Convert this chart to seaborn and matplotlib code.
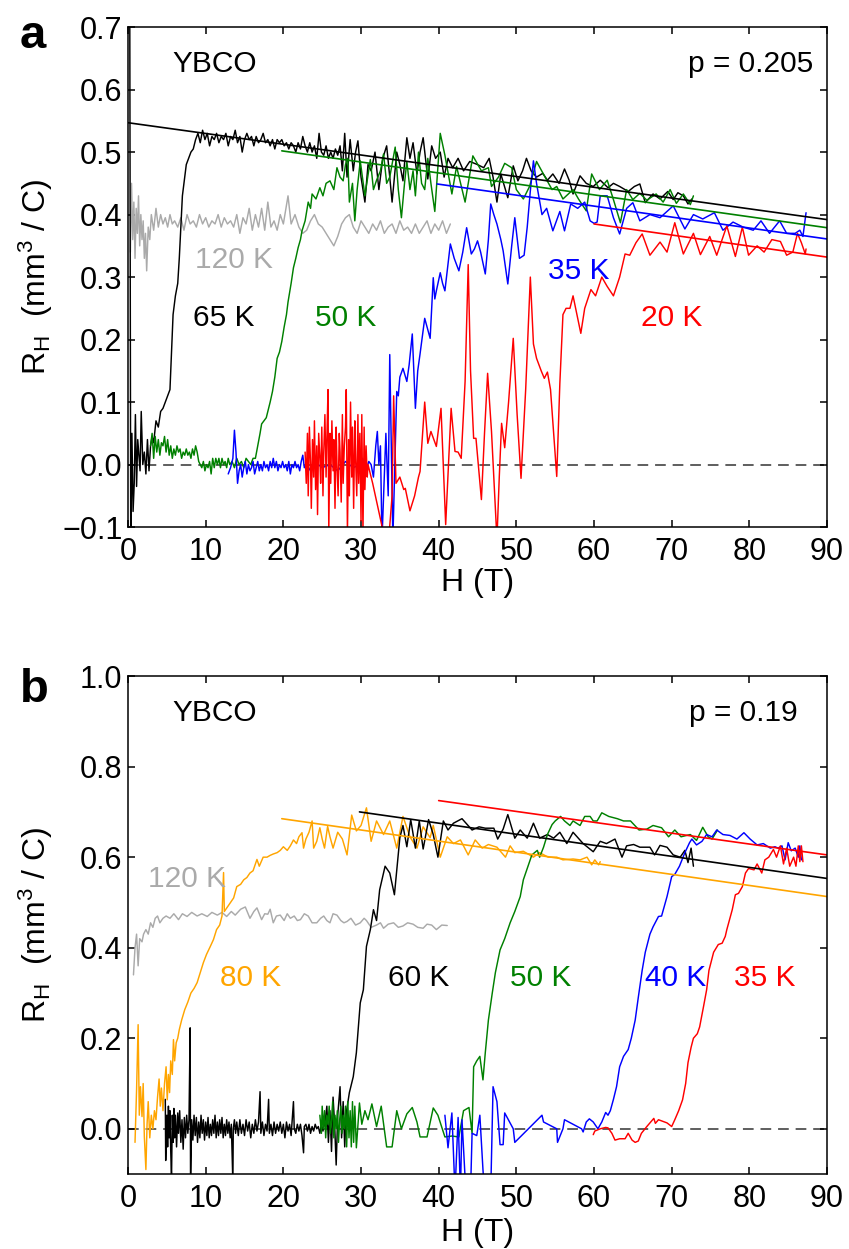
import numpy as np
import pandas as pd
import matplotlib
matplotlib.use("Agg")
import matplotlib.pyplot as plt
import seaborn as sns

# ---------------- panel a : p = 0.205 ----------------
# each array: columns H (T), R_H (mm^3/C)
a_120K = np.array([
    [0.3, 0.34], [0.45, 0.45], [0.6, 0.36], [0.75, 0.42], [0.9, 0.33], [1.05, 0.41], [1.2, 0.37],
    [1.35, 0.43], [1.5, 0.35], [1.65, 0.40], [1.8, 0.36], [1.95, 0.39], [2.1, 0.33], [2.25, 0.37],
    [2.4, 0.31], [2.6, 0.38], [2.8, 0.36], [3.0, 0.40], [3.3, 0.375], [3.6, 0.41], [3.9, 0.38],
    [4.2, 0.40], [4.5, 0.385], [4.8, 0.395], [5.1, 0.38], [5.4, 0.40], [5.7, 0.385], [6.0, 0.39],
    [6.4, 0.38], [6.8, 0.395], [7.2, 0.375], [7.6, 0.40], [8.0, 0.385], [8.4, 0.39], [8.8, 0.38],
    [9.2, 0.40], [9.6, 0.385], [10.0, 0.395], [10.4, 0.38], [10.8, 0.39], [11.2, 0.385], [11.6, 0.40],
    [12.0, 0.38], [12.4, 0.395], [12.8, 0.385], [13.2, 0.39], [13.6, 0.38], [14.0, 0.40], [14.4, 0.37],
    [14.8, 0.395], [15.2, 0.385], [15.6, 0.41], [16.0, 0.375], [16.4, 0.40], [16.8, 0.38], [17.2, 0.41],
    [17.6, 0.375], [18.0, 0.42], [18.4, 0.38], [18.8, 0.39], [19.2, 0.375], [19.6, 0.40], [20.0, 0.385],
    [20.6, 0.43], [21.0, 0.385], [21.5, 0.40], [22.0, 0.38], [22.5, 0.37], [23.0, 0.375], [23.5, 0.39],
    [24.0, 0.40], [24.5, 0.385], [25.0, 0.38], [25.5, 0.37], [26.0, 0.36], [26.5, 0.35], [27.0, 0.365],
    [27.5, 0.385], [28.0, 0.395], [28.5, 0.40], [29.0, 0.38], [29.5, 0.37], [30.0, 0.39], [30.5, 0.38],
    [31.0, 0.37], [31.5, 0.385], [32.0, 0.375], [32.5, 0.39], [33.0, 0.37], [33.5, 0.38], [34.0, 0.385],
    [34.5, 0.37], [35.0, 0.39], [35.5, 0.375], [36.0, 0.38], [36.5, 0.37], [37.0, 0.385], [37.5, 0.37],
    [38.0, 0.38], [38.5, 0.39], [39.0, 0.37], [39.5, 0.385], [40.0, 0.375], [40.5, 0.39], [41.0, 0.37],
    [41.5, 0.385]])

a_65K = np.array([
    [0.2, 0.9], [0.35, -0.15], [0.5, 0.05], [0.65, -0.075], [0.8, -0.03], [0.95, 0.08], [1.1, -0.035],
    [1.25, 0.04], [1.4, 0.015], [1.55, -0.01], [1.7, 0.085], [1.9, 0.0], [2.1, 0.02], [2.3, -0.015],
    [2.5, 0.04], [2.7, -0.01], [2.9, 0.03], [3.1, 0.045], [3.3, 0.035], [3.6, 0.07], [3.9, 0.06],
    [4.2, 0.085], [4.5, 0.09], [4.8, 0.1], [5.1, 0.11], [5.4, 0.12], [5.6, 0.18], [5.8, 0.24],
    [6.1, 0.27], [6.4, 0.29], [6.6, 0.33], [6.8, 0.38], [7.0, 0.43], [7.2, 0.45], [7.5, 0.48],
    [7.8, 0.49], [8.1, 0.50], [8.4, 0.505], [8.7, 0.52], [9.0, 0.53], [9.3, 0.515], [9.6, 0.535],
    [9.9, 0.52], [10.2, 0.53], [10.5, 0.51], [10.8, 0.525], [11.1, 0.52], [11.4, 0.53], [11.7, 0.515],
    [12.0, 0.525], [12.3, 0.52], [12.6, 0.53], [12.9, 0.51], [13.2, 0.525], [13.5, 0.52], [13.8, 0.535],
    [14.1, 0.515], [14.4, 0.525], [14.7, 0.50], [15.0, 0.52], [15.3, 0.53], [15.6, 0.52], [15.9, 0.525],
    [16.2, 0.51], [16.5, 0.525], [16.8, 0.515], [17.1, 0.52], [17.4, 0.53], [17.7, 0.515], [18.0, 0.52],
    [18.3, 0.51], [18.6, 0.52], [18.9, 0.505], [19.2, 0.52], [19.5, 0.515], [19.8, 0.52], [20.1, 0.51],
    [20.4, 0.515], [20.7, 0.505], [21.0, 0.515], [21.3, 0.51], [21.6, 0.50], [21.9, 0.515], [22.2, 0.505],
    [22.5, 0.525], [22.8, 0.51], [23.1, 0.50], [23.4, 0.515], [23.7, 0.50], [24.0, 0.51], [24.3, 0.49],
    [24.6, 0.53], [24.9, 0.50], [25.2, 0.495], [25.5, 0.51], [25.8, 0.49], [26.1, 0.50], [26.4, 0.49],
    [26.7, 0.505], [27.0, 0.495], [27.3, 0.51], [27.6, 0.47], [27.9, 0.53], [28.2, 0.46], [28.6, 0.52],
    [29.0, 0.47], [29.3, 0.50], [29.6, 0.518], [30.0, 0.46], [30.5, 0.42], [30.9, 0.48], [31.3, 0.47],
    [31.8, 0.50], [32.3, 0.44], [32.8, 0.49], [33.3, 0.51], [33.7, 0.46], [34.0, 0.42], [34.6, 0.50],
    [35.0, 0.48], [35.4, 0.454], [35.9, 0.523], [36.3, 0.49], [36.7, 0.515], [37.2, 0.465], [37.6, 0.50],
    [38.0, 0.523], [38.6, 0.457], [39.1, 0.51], [39.6, 0.49], [40.2, 0.50], [40.7, 0.46], [41.2, 0.49],
    [41.8, 0.475], [42.5, 0.49], [43.2, 0.47], [44.0, 0.485], [45.0, 0.48], [45.8, 0.475], [46.5, 0.49],
    [47.0, 0.46], [47.5, 0.42], [48.0, 0.465], [48.9, 0.427], [49.6, 0.478], [50.2, 0.454], [50.8, 0.47],
    [51.3, 0.49], [51.9, 0.47], [52.6, 0.46], [53.4, 0.466], [54.0, 0.455], [54.7, 0.465], [55.5, 0.45],
    [56.2, 0.473], [56.8, 0.455], [57.3, 0.433], [58.2, 0.462], [59.0, 0.45], [59.9, 0.445], [60.8, 0.455],
    [61.8, 0.443], [62.5, 0.45], [63.3, 0.445], [64.4, 0.437], [65.2, 0.445], [65.9, 0.449], [66.6, 0.419],
    [67.6, 0.433], [68.5, 0.425], [69.5, 0.437], [70.2, 0.424], [70.8, 0.435], [71.5, 0.43], [72.1, 0.417],
    [72.6, 0.425]])

a_50K = np.array([
    [2.9, 0.03], [3.1, 0.05], [3.3, 0.01], [3.5, 0.045], [3.7, 0.02], [3.9, 0.04], [4.1, 0.015],
    [4.3, 0.035], [4.5, 0.03], [4.7, 0.045], [4.9, 0.02], [5.1, 0.04], [5.3, 0.015], [5.5, 0.03],
    [5.7, 0.01], [5.9, 0.025], [6.1, 0.015], [6.3, 0.03], [6.5, 0.02], [6.7, 0.025], [6.9, 0.01],
    [7.1, 0.02], [7.3, 0.015], [7.5, 0.025], [7.7, 0.015], [7.9, 0.02], [8.1, 0.01], [8.3, 0.025],
    [8.5, 0.015], [8.7, 0.03], [8.9, 0.02], [9.1, 0.005], [9.3, 0.0], [9.5, -0.005], [9.7, 0.005],
    [9.9, -0.01], [10.1, 0.0], [10.3, -0.005], [10.5, 0.005], [10.7, -0.015], [10.9, 0.01], [11.1, -0.005],
    [11.3, 0.01], [11.5, 0.0], [11.7, 0.01], [11.9, -0.005], [12.1, 0.01], [12.3, 0.0], [12.5, 0.005],
    [12.7, -0.005], [12.9, 0.01], [13.1, 0.0], [13.4, 0.005], [13.7, -0.005], [14.0, 0.01], [14.3, 0.0],
    [14.6, 0.005], [14.9, -0.005], [15.2, 0.01], [15.5, 0.005], [15.8, 0.0], [16.1, 0.01], [16.4, 0.01],
    [16.7, 0.03], [17.0, 0.05], [17.2, 0.065], [17.5, 0.07], [17.8, 0.075], [18.0, 0.085], [18.3, 0.1],
    [18.6, 0.117], [18.9, 0.14], [19.2, 0.17], [19.5, 0.18], [19.8, 0.197], [20.1, 0.22], [20.4, 0.24],
    [20.6, 0.26], [21.0, 0.29], [21.3, 0.315], [21.6, 0.33], [21.9, 0.347], [22.2, 0.36], [22.4, 0.374],
    [22.8, 0.39], [23.2, 0.42], [23.5, 0.41], [23.7, 0.433], [24.2, 0.425], [24.7, 0.443], [25.1, 0.43],
    [25.5, 0.45], [26.0, 0.454], [26.5, 0.44], [26.9, 0.475], [27.3, 0.46], [27.7, 0.454], [28.0, 0.48],
    [28.3, 0.49], [28.5, 0.42], [28.9, 0.45], [29.2, 0.39], [29.5, 0.44], [29.9, 0.486], [30.5, 0.43],
    [31.2, 0.488], [31.6, 0.44], [32.0, 0.455], [32.5, 0.47], [32.9, 0.497], [33.3, 0.45], [33.7, 0.46],
    [34.4, 0.508], [34.8, 0.44], [35.2, 0.395], [35.6, 0.45], [35.9, 0.485], [36.3, 0.44], [36.7, 0.47],
    [37.0, 0.43], [37.4, 0.50], [37.8, 0.45], [38.2, 0.44], [38.6, 0.49], [39.0, 0.45], [39.5, 0.405],
    [40.2, 0.53], [40.8, 0.495], [41.7, 0.433], [42.3, 0.477], [43.4, 0.42], [44.4, 0.494], [45.5, 0.47],
    [46.4, 0.475], [46.8, 0.445], [47.7, 0.46], [48.5, 0.482], [49.4, 0.475], [50.0, 0.44], [50.9, 0.425],
    [51.7, 0.445], [52.6, 0.485], [53.7, 0.46], [54.6, 0.44], [55.2, 0.445], [56.0, 0.425], [57.3, 0.44],
    [58.0, 0.425], [59.0, 0.406], [59.7, 0.465], [60.7, 0.44], [61.7, 0.455], [62.5, 0.424], [63.4, 0.387],
    [64.2, 0.44], [65.0, 0.424], [65.9, 0.434], [66.8, 0.423], [68.0, 0.433], [68.9, 0.42], [69.8, 0.44],
    [70.6, 0.418], [71.5, 0.433], [72.4, 0.416], [72.8, 0.43]])

a_35K = np.array([
    [12.9, -0.015], [13.2, -0.005], [13.5, 0.01], [13.7, 0.055], [13.9, 0.02], [14.1, -0.03], [14.3, -0.01],
    [14.5, 0.0], [14.7, -0.02], [14.9, -0.005], [15.1, 0.005], [15.3, -0.015], [15.5, 0.0], [15.7, -0.01],
    [15.9, -0.005], [16.1, 0.005], [16.3, -0.015], [16.5, -0.005], [16.7, 0.005], [16.9, -0.01], [17.1, 0.0],
    [17.3, -0.01], [17.5, 0.005], [17.7, -0.005], [17.9, 0.0], [18.1, -0.01], [18.3, 0.005], [18.5, -0.005],
    [18.7, 0.01], [18.9, -0.005], [19.1, 0.005], [19.3, -0.01], [19.5, 0.0], [19.7, -0.005], [19.9, 0.005],
    [20.1, -0.005], [20.3, 0.0], [20.5, -0.01], [20.7, 0.005], [20.9, -0.015], [21.1, 0.0], [21.3, -0.005],
    [21.5, 0.005], [21.7, -0.005], [21.9, 0.0], [22.1, -0.01], [22.3, 0.005], [22.5, 0.015], [22.7, -0.005],
    [23.0, 0.0], [23.5, -0.01], [24.0, 0.005], [25.0, -0.005], [26.0, 0.0], [27.0, -0.01], [28.0, 0.005],
    [29.0, -0.005], [29.8, 0.0], [30.2, 0.01], [30.6, -0.01], [31.0, 0.005], [31.3, 0.0], [31.6, -0.02],
    [31.9, 0.03], [32.1, 0.053], [32.3, 0.0], [32.5, 0.03], [32.7, -0.12], [33.2, 0.05], [33.5, -0.05],
    [33.7, 0.176], [34.1, -0.12], [34.6, 0.117], [34.8, 0.11], [35.0, 0.14], [35.4, 0.154], [35.9, 0.133],
    [36.2, 0.16], [36.6, 0.209], [37.0, 0.09], [37.3, 0.15], [37.6, 0.177], [38.2, 0.234], [38.9, 0.202],
    [39.3, 0.299], [39.5, 0.265], [39.7, 0.278], [40.2, 0.307], [40.5, 0.29], [40.8, 0.278], [41.5, 0.353],
    [42.0, 0.33], [42.6, 0.31], [43.1, 0.34], [43.6, 0.379], [44.2, 0.337], [44.6, 0.345], [45.0, 0.358],
    [45.4, 0.34], [46.0, 0.305], [46.4, 0.36], [46.7, 0.417], [47.1, 0.40], [47.5, 0.385], [48.0, 0.36],
    [48.3, 0.342], [48.9, 0.289], [49.4, 0.35], [49.8, 0.395], [50.4, 0.33], [51.0, 0.335], [51.4, 0.38],
    [51.8, 0.438], [52.2, 0.486], [52.6, 0.45], [53.3, 0.40], [53.9, 0.41], [54.7, 0.374], [55.6, 0.405],
    [56.2, 0.374], [57.0, 0.417], [57.9, 0.41], [58.8, 0.42], [59.5, 0.39], [60.0, 0.386], [60.4, 0.388],
    [60.8, 0.43], [61.7, 0.43], [62.5, 0.395], [63.3, 0.369], [64.2, 0.41], [65.0, 0.419], [65.9, 0.39],
    [67.2, 0.40], [68.5, 0.395], [70.2, 0.414], [71.7, 0.377], [72.8, 0.40], [74.0, 0.393], [75.5, 0.403],
    [76.6, 0.375], [77.9, 0.388], [79.2, 0.38], [80.5, 0.375], [81.5, 0.39], [82.6, 0.37], [83.9, 0.39],
    [84.8, 0.37], [85.9, 0.37], [86.5, 0.375], [86.9, 0.365], [87.3, 0.403]])

a_20K = np.array([
    [22.8, 0.02], [22.95, -0.03], [23.1, 0.05], [23.2, -0.05], [23.35, 0.06], [23.5, 0.0], [23.6, -0.07],
    [23.75, 0.04], [23.9, -0.02], [24.0, 0.07], [24.15, -0.04], [24.3, 0.03], [24.4, -0.08], [24.55, 0.05],
    [24.7, 0.01], [24.8, -0.03], [24.95, 0.06], [25.1, -0.05], [25.2, 0.02], [25.35, 0.08], [25.5, -0.02],
    [25.6, 0.04], [25.75, 0.12], [25.85, -0.11], [26.0, 0.05], [26.1, -0.03], [26.25, 0.07], [26.4, -0.01],
    [26.5, 0.04], [26.65, -0.07], [26.8, 0.06], [26.9, 0.0], [27.05, -0.05], [27.2, 0.05], [27.3, 0.02],
    [27.45, -0.06], [27.6, 0.08], [27.7, -0.03], [27.85, 0.03], [28.0, 0.06], [28.1, 0.12], [28.25, -0.11],
    [28.4, 0.04], [28.5, -0.05], [28.65, 0.1], [28.8, -0.02], [28.9, 0.06], [29.05, -0.07], [29.2, 0.07],
    [29.3, 0.01], [29.45, -0.05], [29.6, 0.08], [29.7, -0.03], [29.85, 0.05], [30.0, -0.09], [30.1, 0.08],
    [30.25, -0.11], [30.4, 0.06], [30.5, -0.04], [30.65, 0.03], [30.8, -0.02], [30.9, 0.0],
    [31.5, -0.03], [32.2, -0.07], [32.9, -0.11], [33.5, -0.13], [34.0, -0.05], [34.2, 0.11], [34.5, -0.03],
    [35.0, -0.02], [35.5, -0.04], [35.7, -0.038], [36.3, -0.074], [36.9, -0.05], [37.4, -0.02], [37.6, -0.011],
    [38.2, 0.10], [38.6, 0.034], [39.0, 0.053], [39.7, 0.029], [40.3, 0.09], [40.9, -0.096], [41.6, 0.09],
    [42.1, 0.021], [42.5, 0.02], [42.9, 0.01], [43.4, 0.133], [43.8, 0.32], [44.1, 0.15], [44.5, 0.042],
    [44.8, 0.042], [45.5, -0.056], [45.9, 0.05], [46.3, 0.146], [46.8, 0.053], [47.5, -0.12], [47.8, -0.02],
    [48.1, 0.066], [48.5, 0.027], [49.0, 0.1], [49.6, 0.202], [50.1, 0.08], [50.6, -0.022], [51.2, 0.12],
    [51.8, 0.30], [52.2, 0.193], [52.6, 0.17], [53.2, 0.15], [53.6, 0.138], [54.0, 0.148], [54.4, 0.12],
    [54.8, 0.05], [55.2, -0.019], [55.6, 0.13], [56.0, 0.24], [56.4, 0.25], [56.9, 0.25], [57.3, 0.27],
    [57.8, 0.24], [58.3, 0.21], [58.8, 0.25], [59.6, 0.28], [60.2, 0.27], [61.0, 0.30], [61.7, 0.285],
    [62.5, 0.27], [63.3, 0.30], [64.0, 0.337], [64.6, 0.335], [65.4, 0.355], [66.2, 0.369], [67.2, 0.335],
    [68.5, 0.356], [69.4, 0.34], [70.4, 0.387], [71.5, 0.337], [72.8, 0.37], [73.7, 0.336], [74.9, 0.365],
    [75.8, 0.335], [77.1, 0.382], [78.2, 0.333], [79.1, 0.38], [79.9, 0.335], [81.0, 0.35], [81.9, 0.34],
    [82.9, 0.36], [84.0, 0.357], [84.8, 0.335], [85.6, 0.34], [86.2, 0.37], [86.7, 0.355], [87.2, 0.337],
    [87.3, 0.345]])

# straight high-field fits, panel a (start, end)
a_fit_65K = np.array([[0.0, 0.547], [90.0, 0.392]])
a_fit_50K = np.array([[19.8, 0.502], [90.0, 0.379]])
a_fit_35K = np.array([[39.8, 0.449], [90.0, 0.361]])
a_fit_20K = np.array([[60.0, 0.385], [90.0, 0.332]])

# ---------------- panel b : p = 0.19 ----------------
b_120K = np.array([
    [0.7, 0.34], [0.9, 0.40], [1.1, 0.43], [1.3, 0.36], [1.5, 0.42], [1.8, 0.413], [2.0, 0.43],
    [2.3, 0.44], [2.6, 0.43], [2.9, 0.455], [3.2, 0.445], [3.5, 0.465], [3.8, 0.47], [4.1, 0.455],
    [4.5, 0.465], [4.9, 0.47], [5.4, 0.465], [5.9, 0.475], [6.5, 0.462], [7.0, 0.475], [7.6, 0.469],
    [8.2, 0.478], [8.9, 0.47], [9.5, 0.475], [10.2, 0.469], [10.8, 0.478], [11.5, 0.472], [12.1, 0.478],
    [12.7, 0.469], [13.3, 0.48], [13.8, 0.472], [14.5, 0.485], [15.1, 0.49], [15.7, 0.465], [16.2, 0.48],
    [16.6, 0.488], [17.2, 0.462], [17.6, 0.475], [18.0, 0.474], [18.3, 0.485], [18.7, 0.455], [19.1, 0.47],
    [19.6, 0.472], [20.1, 0.46], [20.5, 0.475], [20.9, 0.465], [21.4, 0.47], [21.8, 0.46], [22.2, 0.462],
    [22.7, 0.475], [23.2, 0.47], [23.7, 0.455], [24.3, 0.455], [24.8, 0.465], [25.2, 0.47], [25.6, 0.46],
    [26.0, 0.455], [26.4, 0.475], [26.9, 0.472], [27.4, 0.46], [27.8, 0.455], [28.2, 0.458], [28.7, 0.465],
    [29.3, 0.45], [29.9, 0.455], [30.4, 0.465], [30.7, 0.46], [31.3, 0.445], [32.0, 0.45], [32.5, 0.455],
    [32.9, 0.443], [33.5, 0.452], [34.2, 0.455], [34.8, 0.445], [35.4, 0.448], [36.0, 0.455], [36.7, 0.452],
    [37.3, 0.445], [38.0, 0.443], [38.5, 0.452], [39.1, 0.45], [39.7, 0.44], [40.4, 0.45], [41.1, 0.449]])

b_80K = np.array([
    [0.9, -0.03], [1.1, 0.086], [1.3, 0.23], [1.45, 0.03], [1.6, 0.093], [1.8, 0.027], [1.95, 0.10],
    [2.1, -0.017], [2.3, -0.09], [2.45, 0.01], [2.6, 0.06], [2.8, -0.02], [3.0, 0.03], [3.2, 0.0],
    [3.4, 0.04], [3.6, 0.02], [3.8, 0.07], [4.0, 0.11], [4.15, 0.05], [4.3, 0.09], [4.5, 0.04],
    [4.7, 0.10], [4.9, 0.137], [5.05, 0.064], [5.2, 0.12], [5.35, 0.08], [5.5, 0.15], [5.7, 0.12],
    [5.85, 0.197], [6.0, 0.15], [6.2, 0.19], [6.4, 0.2], [6.6, 0.219], [6.9, 0.24], [7.3, 0.263],
    [7.7, 0.28], [8.1, 0.30], [8.5, 0.31], [8.9, 0.323], [9.3, 0.345], [9.7, 0.367], [10.1, 0.385],
    [10.6, 0.403], [11.0, 0.418], [11.4, 0.44], [11.8, 0.45], [12.1, 0.47], [12.3, 0.566], [12.4, 0.48],
    [12.8, 0.49], [13.2, 0.50], [13.6, 0.51], [14.0, 0.535], [14.5, 0.54], [14.9, 0.55], [15.3, 0.555],
    [15.7, 0.565], [16.1, 0.57], [16.6, 0.595], [16.9, 0.58], [17.4, 0.60], [17.9, 0.60], [18.3, 0.604],
    [18.7, 0.607], [19.2, 0.61], [19.6, 0.615], [20.0, 0.623], [20.5, 0.615], [20.9, 0.625], [21.3, 0.638],
    [21.7, 0.63], [22.0, 0.645], [22.4, 0.654], [22.6, 0.62], [22.9, 0.64], [23.3, 0.655], [23.7, 0.68],
    [23.9, 0.62], [24.3, 0.635], [24.7, 0.665], [25.0, 0.64], [25.3, 0.62], [25.7, 0.668], [26.0, 0.645],
    [26.4, 0.62], [27.0, 0.655], [27.6, 0.64], [28.2, 0.605], [28.8, 0.693], [29.4, 0.658], [30.0, 0.67],
    [30.7, 0.709], [31.3, 0.635], [32.0, 0.68], [32.9, 0.65], [33.7, 0.68], [34.6, 0.62], [35.4, 0.69],
    [36.3, 0.645], [37.2, 0.62], [38.0, 0.667], [38.9, 0.643], [39.3, 0.67], [40.2, 0.60], [41.1, 0.645],
    [41.9, 0.63], [42.8, 0.638], [43.8, 0.605], [44.7, 0.638], [45.6, 0.62], [46.4, 0.628], [47.5, 0.622],
    [48.6, 0.60], [49.2, 0.625], [49.8, 0.61], [50.9, 0.613], [52.2, 0.60], [53.0, 0.61], [54.1, 0.60],
    [55.2, 0.60], [56.0, 0.594], [57.3, 0.596], [58.2, 0.594], [59.1, 0.60], [59.7, 0.583], [60.1, 0.594],
    [60.6, 0.583], [60.8, 0.59]])

b_60K = np.array([
    [4.8, 0.065], [4.85, -0.07], [5.0, 0.03], [5.1, -0.04], [5.2, 0.05], [5.3, -0.02], [5.4, 0.04],
    [5.5, -0.05], [5.6, -0.11], [5.7, 0.03], [5.8, -0.03], [5.9, 0.045], [6.0, -0.02], [6.1, 0.03],
    [6.25, -0.04], [6.4, 0.035], [6.5, -0.01], [6.65, 0.04], [6.8, -0.03], [6.95, 0.02], [7.1, -0.045],
    [7.25, 0.025], [7.4, -0.02], [7.55, 0.03], [7.7, -0.01], [7.85, 0.02], [8.0, 0.223], [8.05, -0.12],
    [8.2, 0.02], [8.35, -0.025], [8.5, 0.03], [8.65, -0.015], [8.8, 0.025], [8.95, -0.03], [9.1, 0.015],
    [9.25, -0.02], [9.4, 0.03], [9.55, -0.01], [9.7, 0.02], [9.85, -0.025], [10.0, 0.015], [10.15, -0.015],
    [10.3, 0.025], [10.45, -0.02], [10.6, 0.01], [10.75, -0.015], [10.9, 0.02], [11.05, -0.01], [11.2, 0.03],
    [11.35, -0.02], [11.5, 0.015], [11.65, -0.015], [11.8, 0.02], [11.95, -0.01], [12.1, 0.025], [12.25, -0.02],
    [12.4, 0.01], [12.55, -0.015], [12.7, 0.02], [12.85, -0.01], [13.0, 0.015], [13.15, -0.02], [13.3, 0.01],
    [13.5, -0.12], [13.55, 0.0], [13.7, 0.02], [13.85, -0.01], [14.0, 0.015], [14.2, -0.015], [14.4, 0.02],
    [14.6, -0.01], [14.8, 0.01], [15.0, -0.015], [15.2, 0.02], [15.4, -0.005], [15.6, 0.015], [15.8, -0.02],
    [16.0, 0.01], [16.2, -0.01], [16.4, 0.02], [16.6, -0.005], [16.8, 0.015], [17.0, 0.082], [17.1, -0.01],
    [17.3, 0.015], [17.5, -0.015], [17.7, 0.01], [17.9, -0.005], [18.1, 0.065], [18.2, -0.01], [18.4, 0.01],
    [18.6, -0.015], [18.8, 0.015], [19.0, -0.01], [19.2, 0.01], [19.4, -0.005], [19.6, 0.015], [19.8, -0.01],
    [20.0, 0.01], [20.2, -0.02], [20.4, 0.015], [20.6, -0.005], [20.8, 0.01], [21.0, -0.015], [21.3, 0.06],
    [21.4, 0.0], [21.6, -0.01], [21.8, 0.01], [22.0, -0.005], [22.2, 0.01], [22.4, -0.015], [22.6, -0.053],
    [22.7, 0.005], [22.9, 0.01], [23.1, -0.005], [23.3, 0.01], [23.5, -0.01], [23.7, 0.005], [23.9, -0.005],
    [24.1, 0.01], [24.3, 0.0], [24.5, 0.005], [24.7, -0.01], [24.9, 0.01], [25.1, -0.005], [25.4, 0.02],
    [25.6, 0.05], [25.8, -0.03], [26.0, 0.04], [26.2, -0.05], [26.4, 0.07], [26.6, 0.01], [26.8, -0.08],
    [27.0, 0.03], [27.3, 0.093], [27.5, -0.02], [27.7, 0.06], [27.9, -0.04], [28.1, 0.035], [28.5, 0.08],
    [29.0, 0.115], [29.4, 0.168], [29.9, 0.278], [30.3, 0.307], [30.7, 0.403], [31.2, 0.44], [31.6, 0.484],
    [32.0, 0.46], [32.4, 0.528], [33.1, 0.58], [33.7, 0.565], [34.3, 0.517], [35.0, 0.643], [35.4, 0.67],
    [35.9, 0.623], [36.4, 0.683], [37.0, 0.62], [37.5, 0.68], [38.0, 0.618], [38.7, 0.683], [39.3, 0.65],
    [39.9, 0.60], [40.6, 0.68], [41.2, 0.66], [41.9, 0.675], [43.0, 0.685], [44.3, 0.66], [45.2, 0.667],
    [46.0, 0.664], [47.1, 0.664], [47.6, 0.64], [48.3, 0.662], [48.9, 0.694], [49.8, 0.642], [50.5, 0.66],
    [51.4, 0.642], [52.2, 0.675], [53.0, 0.642], [54.0, 0.65], [54.8, 0.642], [55.6, 0.655], [56.5, 0.63],
    [57.3, 0.655], [58.6, 0.63], [59.9, 0.612], [60.8, 0.635], [61.6, 0.63], [62.7, 0.64], [63.6, 0.60],
    [64.2, 0.625], [65.1, 0.628], [65.9, 0.622], [67.2, 0.622], [67.8, 0.605], [68.5, 0.626], [69.4, 0.622],
    [70.2, 0.605], [71.1, 0.60], [71.7, 0.615], [72.1, 0.588], [72.5, 0.62], [72.8, 0.58]])

b_50K = np.array([
    [24.7, 0.03], [24.9, -0.01], [25.0, 0.05], [25.15, 0.0], [25.3, 0.04], [25.45, -0.02], [25.6, 0.03],
    [25.75, 0.01], [25.9, 0.05], [26.05, -0.01], [26.2, 0.02], [26.35, 0.06], [26.5, -0.02], [26.65, 0.03],
    [26.8, 0.0], [26.95, 0.04], [27.1, -0.03], [27.25, 0.02], [27.4, 0.05], [27.55, -0.01], [27.7, 0.03],
    [27.85, 0.0], [28.0, 0.05], [28.15, -0.04], [28.3, 0.06], [28.45, -0.02], [28.6, 0.04], [28.75, -0.04],
    [28.9, 0.06], [29.05, -0.03], [29.2, 0.05], [29.4, -0.042], [29.8, 0.057], [30.1, 0.01], [30.5, 0.04],
    [30.9, 0.02], [31.4, 0.055], [32.0, 0.005], [32.6, 0.05], [33.3, -0.04], [34.0, -0.04], [34.6, 0.04],
    [35.2, 0.0], [35.9, 0.033], [36.6, 0.047], [37.2, 0.015], [37.6, -0.018], [38.5, -0.018], [39.3, 0.046],
    [39.9, 0.03], [40.8, -0.018], [41.7, -0.016], [42.6, -0.018], [43.2, 0.04], [43.9, 0.047], [44.3, -0.01],
    [44.5, 0.137], [44.9, 0.15], [45.3, 0.16], [45.7, 0.108], [46.0, 0.168], [46.4, 0.24], [46.9, 0.30],
    [47.3, 0.345], [47.9, 0.395], [48.5, 0.42], [49.2, 0.455], [49.8, 0.48], [50.5, 0.513], [50.9, 0.55],
    [51.5, 0.58], [52.0, 0.605], [52.7, 0.615], [53.0, 0.60], [53.5, 0.622], [54.0, 0.65], [54.6, 0.672],
    [55.0, 0.68], [55.7, 0.69], [56.2, 0.68], [56.9, 0.67], [57.3, 0.68], [58.2, 0.67], [58.8, 0.69],
    [59.5, 0.69], [59.9, 0.68], [60.4, 0.68], [61.0, 0.698], [61.9, 0.69], [63.0, 0.685], [63.8, 0.68],
    [64.7, 0.68], [65.8, 0.66], [66.8, 0.662], [67.6, 0.67], [68.7, 0.665], [69.6, 0.645], [70.4, 0.66],
    [71.2, 0.645], [72.4, 0.65], [73.2, 0.637], [74.0, 0.666], [74.7, 0.645], [75.2, 0.64], [75.9, 0.66]])

b_40K = np.array([
    [40.8, 0.03], [41.2, -0.042], [41.7, 0.035], [42.1, -0.14], [42.5, 0.025], [42.8, -0.14], [43.0, 0.02],
    [43.5, -0.14], [44.1, -0.14], [44.3, -0.01], [44.9, -0.015], [45.3, 0.03], [45.7, -0.09], [45.9, -0.14],
    [46.7, -0.14], [47.0, 0.093], [47.5, 0.06], [47.9, -0.035], [48.3, -0.035], [48.5, 0.035], [49.6, 0.0],
    [49.8, -0.03], [53.3, 0.03], [53.5, 0.015], [55.2, 0.0], [55.3, -0.03], [56.0, 0.0], [56.2, 0.02],
    [58.4, 0.0], [58.6, -0.007], [59.0, 0.015], [59.4, 0.022], [59.9, 0.015], [60.5, 0.0], [61.0, 0.015],
    [61.5, 0.036], [61.8, 0.03], [62.1, 0.04], [62.5, 0.065], [62.9, 0.093], [63.3, 0.137], [63.8, 0.16],
    [64.4, 0.175], [64.8, 0.2], [65.3, 0.24], [65.7, 0.29], [66.2, 0.35], [66.6, 0.39], [67.2, 0.43],
    [67.6, 0.446], [68.3, 0.469], [68.7, 0.47], [69.4, 0.513], [70.0, 0.557], [70.4, 0.562], [71.0, 0.58],
    [71.7, 0.61], [72.3, 0.632], [72.6, 0.64], [73.2, 0.627], [73.9, 0.635], [74.5, 0.65], [75.2, 0.645],
    [75.8, 0.66], [76.6, 0.65], [77.5, 0.648], [78.4, 0.64], [79.3, 0.654], [80.1, 0.64], [81.0, 0.627],
    [81.8, 0.63], [82.7, 0.62], [83.3, 0.623], [83.7, 0.62], [84.2, 0.625], [84.6, 0.594], [85.0, 0.632],
    [85.4, 0.614], [85.9, 0.62], [86.3, 0.60], [86.5, 0.625], [86.7, 0.594]])

b_35K = np.array([
    [59.9, -0.013], [60.1, -0.005], [60.8, 0.0], [61.5, 0.003], [61.8, 0.002], [62.3, -0.01], [62.7, -0.025],
    [63.3, -0.022], [64.0, -0.022], [64.4, -0.01], [64.9, -0.025], [65.3, -0.03], [65.7, -0.027], [66.1, -0.01],
    [66.8, 0.005], [67.7, 0.023], [67.9, 0.012], [68.3, 0.02], [69.4, 0.013], [70.0, 0.005], [70.4, 0.02],
    [70.9, 0.04], [71.4, 0.064], [71.8, 0.10], [72.1, 0.146], [72.5, 0.18], [72.8, 0.20], [73.3, 0.21],
    [73.6, 0.225], [74.1, 0.27], [74.5, 0.307], [74.8, 0.35], [75.4, 0.39], [76.0, 0.407], [76.5, 0.41],
    [76.9, 0.425], [77.1, 0.44], [77.8, 0.484], [78.2, 0.517], [78.6, 0.52], [79.1, 0.535], [79.5, 0.565],
    [79.9, 0.575], [80.6, 0.572], [81.0, 0.585], [81.6, 0.565], [82.0, 0.594], [82.5, 0.60], [83.1, 0.617],
    [83.5, 0.60], [84.0, 0.625], [84.4, 0.585], [84.8, 0.62], [85.2, 0.58], [85.7, 0.60], [86.0, 0.58],
    [86.3, 0.625], [86.5, 0.59], [86.7, 0.625], [86.9, 0.59]])

b_fit_80K = np.array([[19.8, 0.685], [90.0, 0.513]])
b_fit_60K = np.array([[29.8, 0.700], [90.0, 0.553]])
b_fit_35K = np.array([[40.0, 0.725], [90.0, 0.605]])

# curve labels: (text, H, R_H, colour)
a_labels = [("120 K", 8.6, 0.327, "#aaaaaa"), ("65 K", 8.4, 0.234, "black"),
            ("50 K", 24.1, 0.234, "green"), ("35 K", 54.1, 0.31, "blue"),
            ("20 K", 66.0, 0.234, "red")]
b_labels = [("120 K", 2.6, 0.552, "#aaaaaa"), ("80 K", 11.8, 0.334, "orange"),
            ("60 K", 33.5, 0.334, "black"), ("50 K", 49.2, 0.334, "green"),
            ("40 K", 66.6, 0.334, "blue"), ("35 K", 78.0, 0.334, "red")]

# ---------------- style ----------------
sns.set_style("ticks")
plt.rcParams['font.family'] = ['Liberation Sans', 'DejaVu Sans']
plt.rcParams['mathtext.fontset'] = 'custom'
plt.rcParams['mathtext.rm'] = 'Liberation Sans'
plt.rcParams['mathtext.it'] = 'Liberation Sans:italic'
plt.rcParams['axes.linewidth'] = 1.1
plt.rcParams['text.color'] = 'black'
plt.rcParams['axes.labelcolor'] = 'black'
plt.rcParams['xtick.color'] = 'black'
plt.rcParams['ytick.color'] = 'black'
plt.rcParams['axes.edgecolor'] = 'black'

fig = plt.figure(figsize=(8.49, 12.49), dpi=100)
ax_a = fig.add_axes([0.1508, 0.5780, 0.8233, 0.4003])
ax_b = fig.add_axes([0.1508, 0.0600, 0.8233, 0.3987])


def draw(ax, arr, color, lw=1.05):
    df = pd.DataFrame(arr, columns=["H", "R"])
    sns.lineplot(data=df, x="H", y="R", ax=ax, color=color, lw=lw,
                 sort=False, estimator=None, errorbar=None)


for ax in (ax_a, ax_b):
    ax.axhline(0, color="#333333", lw=1.1, dashes=(7, 4.5), zorder=0.5)

# panel a curves
draw(ax_a, a_120K, "#aaaaaa")
draw(ax_a, a_65K, "black")
draw(ax_a, a_50K, "green")
draw(ax_a, a_35K, "blue")
draw(ax_a, a_20K, "red")
draw(ax_a, a_fit_65K, "black", 1.2)
draw(ax_a, a_fit_50K, "green", 1.2)
draw(ax_a, a_fit_35K, "blue", 1.2)
draw(ax_a, a_fit_20K, "red", 1.2)

# panel b curves
draw(ax_b, b_120K, "#aaaaaa")
draw(ax_b, b_80K, "orange")
draw(ax_b, b_60K, "black")
draw(ax_b, b_50K, "green")
draw(ax_b, b_40K, "blue")
draw(ax_b, b_35K, "red")
draw(ax_b, b_fit_80K, "orange", 1.2)
draw(ax_b, b_fit_60K, "black", 1.2)
draw(ax_b, b_fit_35K, "red", 1.2)

ax_a.set_ylim(-0.1, 0.7)
ax_a.set_yticks([-0.1, 0.0, 0.1, 0.2, 0.3, 0.4, 0.5, 0.6, 0.7])
ax_b.set_ylim(-0.1, 1.0)
ax_b.set_yticks([0.0, 0.2, 0.4, 0.6, 0.8, 1.0])

for ax, lbls, p_txt, xl_y in ((ax_a, a_labels, "p = 0.205", -0.082),
                              (ax_b, b_labels, "p = 0.19", -0.088)):
    ax.set_xlim(0, 90)
    ax.set_xticks(range(0, 91, 10))
    ax.tick_params(direction="in", top=True, right=True, length=5, width=1.1,
                   labelsize=22, colors="black")
    ax.tick_params(axis="x", pad=7)
    ax.tick_params(axis="y", pad=4)
    for s in ax.spines.values():
        s.set_linewidth(1.1)
        s.set_color("black")
    ax.set_xlabel("H (T)", fontsize=23, color="black")
    ax.xaxis.set_label_coords(0.5, xl_y)
    ax.set_ylabel(r"R$_{\rm H}$  (mm$^{3}$ / C)", fontsize=23, color="black")
    ax.yaxis.set_label_coords(-0.104, 0.5)
    ax.text(0.064, 0.926, "YBCO", transform=ax.transAxes, fontsize=21.5,
            ha="left", va="center", color="black")
    ax.text(0.98 if ax is ax_a else 0.958, 0.926, p_txt, transform=ax.transAxes,
            fontsize=21.5, ha="right", va="center", color="black")
    for txt, hx, ry, c in lbls:
        ax.text(hx, ry, txt, color=c, fontsize=21.5, ha="left", va="center")

fig.text(20 / 849, 1 - 48 / 1249, "a", fontsize=34, fontweight="bold",
         ha="left", va="baseline", color="black")
fig.text(20 / 849, 1 - 702 / 1249, "b", fontsize=34, fontweight="bold",
         ha="left", va="baseline", color="black")

fig.savefig("out.png", dpi=100)
